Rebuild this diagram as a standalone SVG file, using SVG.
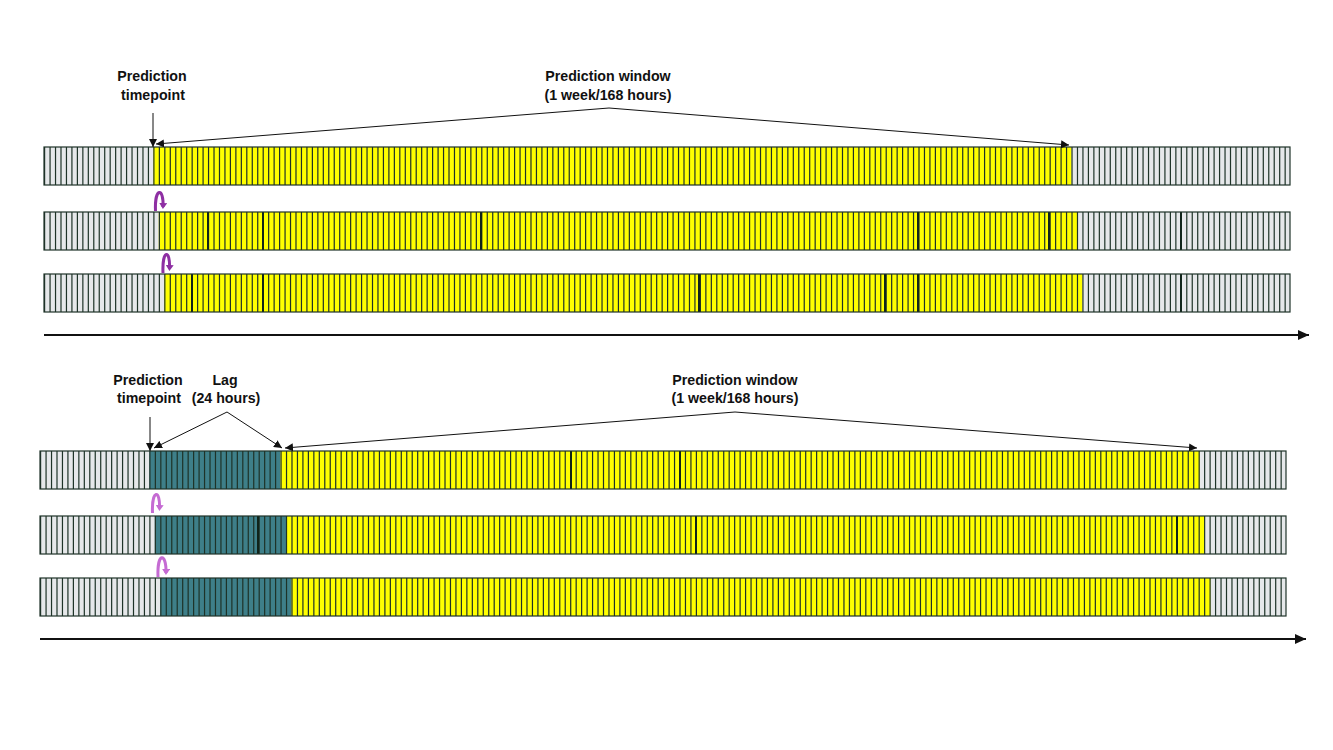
<svg xmlns="http://www.w3.org/2000/svg" width="1333" height="750" viewBox="0 0 1333 750">
<style>
.g{fill:#e6e8ea}
.y{fill:#ffff00}
.t{fill:#3e7f89}
.grid{stroke:#1e3328;stroke-width:38;stroke-dasharray:1.2 4.265;fill:none}
.frame{fill:none;stroke:#1e3328;stroke-width:1.2}
.thick{stroke:#10241a;stroke-width:2}
.lbl{font-family:"Liberation Sans",Arial,sans-serif;font-weight:bold;font-size:14.2px;fill:#111;text-anchor:middle}
.ptr{stroke:#111;stroke-width:1;fill:none;marker-end:url(#ah)}
.axis{stroke:#111;stroke-width:2;fill:none;marker-end:url(#ah2)}
.curlA{stroke:#8e2fa3;stroke-width:3;fill:none;marker-end:url(#ahP1)}
.curlB{stroke:#c56bd3;stroke-width:3;fill:none;marker-end:url(#ahP2)}
</style>
<defs>
<marker id="ah" markerUnits="userSpaceOnUse" markerWidth="9" markerHeight="8" refX="8" refY="4" orient="auto"><path d="M0,0 L8,4 L0,8 Z" fill="#111"/></marker>
<marker id="ah2" markerUnits="userSpaceOnUse" markerWidth="12" markerHeight="10" refX="11" refY="5" orient="auto"><path d="M0,0 L11,5 L0,10 Z" fill="#111"/></marker>
<marker id="ahP1" markerUnits="userSpaceOnUse" markerWidth="8" markerHeight="8" refX="4" refY="4" orient="auto"><path d="M0,0 L6,4 L0,8 Z" fill="#8e2fa3"/></marker>
<marker id="ahP2" markerUnits="userSpaceOnUse" markerWidth="8" markerHeight="8" refX="4" refY="4" orient="auto"><path d="M0,0 L6,4 L0,8 Z" fill="#c56bd3"/></marker>
</defs>
<rect width="1333" height="750" fill="#ffffff"/>

<!-- Top section -->
<g id="top-row-1">
<rect class="g" x="44" y="147" width="1246" height="38"/>
<rect class="y" x="153.3" y="147" width="918.2" height="38"/>
<line class="grid" x1="44" y1="166" x2="1290" y2="166"/>
<rect class="frame" x="44" y="147" width="1246" height="38"/>
</g>
<g id="top-row-2">
<rect class="g" x="44" y="212" width="1246" height="38"/>
<rect class="y" x="158.8" y="212" width="918.2" height="38"/>
<line class="grid" x1="44" y1="231" x2="1290" y2="231"/>
<g class="thick"><line x1="208" y1="212" x2="208" y2="250"/><line x1="263" y1="212" x2="263" y2="250"/><line x1="481" y1="212" x2="481" y2="250"/><line x1="918" y1="212" x2="918" y2="250"/><line x1="1049" y1="212" x2="1049" y2="250"/><line x1="1181" y1="212" x2="1181" y2="250"/></g>
<rect class="frame" x="44" y="212" width="1246" height="38"/>
</g>
<g id="top-row-3">
<rect class="g" x="44" y="274" width="1246" height="38"/>
<rect class="y" x="164.2" y="274" width="918.2" height="38"/>
<line class="grid" x1="44" y1="293" x2="1290" y2="293"/>
<g class="thick"><line x1="192" y1="274" x2="192" y2="312"/><line x1="263" y1="274" x2="263" y2="312"/><line x1="699" y1="274" x2="699" y2="312"/><line x1="885" y1="274" x2="885" y2="312"/><line x1="918" y1="274" x2="918" y2="312"/><line x1="1181" y1="274" x2="1181" y2="312"/></g>
<rect class="frame" x="44" y="274" width="1246" height="38"/>
</g>

<!-- Bottom section -->
<g id="bottom-row-1">
<rect class="g" x="40" y="451" width="1246" height="38"/>
<rect class="t" x="149.3" y="451" width="131.2" height="38"/>
<rect class="y" x="280.5" y="451" width="919" height="38"/>
<line class="grid" x1="40" y1="470" x2="1286" y2="470"/>
<g class="thick"><line x1="571" y1="451" x2="571" y2="489"/><line x1="680" y1="451" x2="680" y2="489"/></g>
<rect class="frame" x="40" y="451" width="1246" height="38"/>
</g>
<g id="bottom-row-2">
<rect class="g" x="40" y="516" width="1246" height="38"/>
<rect class="t" x="154.8" y="516" width="131.2" height="38"/>
<rect class="y" x="286" y="516" width="919" height="38"/>
<line class="grid" x1="40" y1="535" x2="1286" y2="535"/>
<g class="thick"><line x1="258" y1="516" x2="258" y2="554"/><line x1="696" y1="516" x2="696" y2="554"/><line x1="1177" y1="516" x2="1177" y2="554"/></g>
<rect class="frame" x="40" y="516" width="1246" height="38"/>
</g>
<g id="bottom-row-3">
<rect class="g" x="40" y="578" width="1246" height="38"/>
<rect class="t" x="160.3" y="578" width="131.2" height="38"/>
<rect class="y" x="291.5" y="578" width="919" height="38"/>
<line class="grid" x1="40" y1="597" x2="1286" y2="597"/>
<rect class="frame" x="40" y="578" width="1246" height="38"/>
</g>

<!-- Labels -->
<g id="label-top-timepoint">
<text class="lbl" x="152" y="81">Prediction</text>
<text class="lbl" x="153" y="100">timepoint</text>
</g>
<g id="label-top-window">
<text class="lbl" x="608" y="81">Prediction window</text>
<text class="lbl" x="608" y="100">(1 week/168 hours)</text>
</g>
<g id="label-bottom-timepoint">
<text class="lbl" x="148" y="385">Prediction</text>
<text class="lbl" x="149" y="403">timepoint</text>
</g>
<g id="label-bottom-lag">
<text class="lbl" x="225" y="385">Lag</text>
<text class="lbl" x="226" y="403">(24 hours)</text>
</g>
<g id="label-bottom-window">
<text class="lbl" x="735" y="385">Prediction window</text>
<text class="lbl" x="735" y="403">(1 week/168 hours)</text>
</g>

<!-- Connectors -->
<g id="connectors">
<path class="ptr" d="M153,113 L153,147"/>
<path class="ptr" d="M609,108 L156,144"/>
<path class="ptr" d="M609,108 L1069,145"/>
<path class="ptr" d="M150,417 L150,451"/>
<path class="ptr" d="M227,412 L154,448"/>
<path class="ptr" d="M227,412 L282,448"/>
<path class="ptr" d="M735,412 L285,448"/>
<path class="ptr" d="M735,412 L1197,448"/>
<path class="axis" d="M44,335 L1309,335"/>
<path class="axis" d="M40,639 L1306,639"/>
<path class="curlA" d="M155.5,211 C154.5,187 164,187 163,207"/>
<path class="curlA" d="M163,273 C162,249 170.5,249 169.5,269"/>
<path class="curlB" d="M152.5,513 C151.5,489 160.5,489 159.5,509"/>
<path class="curlB" d="M158,577 C157,552 166.5,552 166,573"/>
</g>
</svg>
